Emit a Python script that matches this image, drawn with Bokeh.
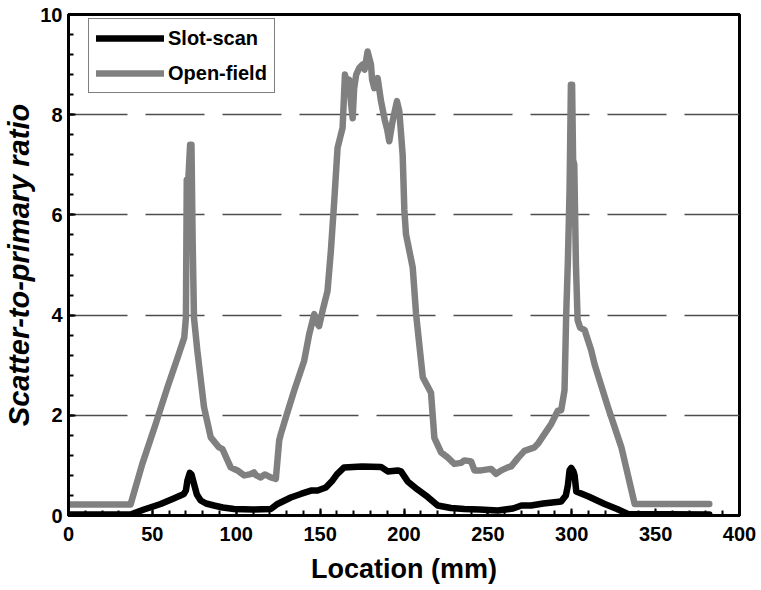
from bokeh.plotting import figure
from bokeh.models import SingleIntervalTicker, Legend, LegendItem, Range1d, ColumnDataSource
from bokeh.embed import file_html
from bokeh.resources import INLINE

# Location (mm) and scatter-to-primary ratio
open_x = [0, 37, 44, 52, 59, 65, 69, 70, 70.5, 71.5, 72.5, 73.3, 74, 74.8, 76.8, 80.8, 84.8,
          89.7, 91.7, 96.7, 100.7, 104.7, 108, 110.6, 112, 114.6, 117, 120.6, 123.6, 125.6,
          126.6, 129.6, 134.5, 140.5, 143.5, 146.5, 148, 149.4, 151.4, 154.4, 156.4, 158.4,
          160.4, 163.4, 164.8, 166, 167.3, 168.5, 169.4, 170.3, 171.5, 173.3, 175.3, 176.5,
          178.3, 180.3, 181, 182.3, 184.3, 186.3, 188.5, 190, 191.2, 193.2, 195.8, 197.2,
          199.2, 200.2, 201.2, 205.2, 207.2, 211.2, 216.1, 218.1, 222.1, 226, 230, 234, 236,
          240, 242, 246, 251.9, 254.9, 258, 261.9, 263.9, 268, 271.8, 277.8, 279.8, 283.8,
          287.8, 291.7, 293.7, 295.7, 296.7, 297.7, 298.7, 299.5, 300.2, 300.8, 301.5, 302.5,
          303.5, 305, 307.7, 311.6, 313.6, 321.6, 329.6, 337.5, 382]
open_y = [0.22, 0.22, 1.03, 1.83, 2.56, 3.15, 3.55, 3.95, 6.7, 6.75, 7.4, 7.4, 5.5, 3.95, 3.29,
          2.16, 1.56, 1.36, 1.33, 0.96, 0.9, 0.8, 0.82, 0.86, 0.8, 0.76, 0.82, 0.76, 0.73, 1.5,
          1.63, 1.96, 2.49, 3.09, 3.62, 4.02, 3.85, 3.78, 4.08, 4.48, 5.28, 6.27, 7.34, 7.74,
          8.8, 8.6, 8.7, 8.2, 7.93, 8.53, 8.8, 8.93, 9.0, 8.9, 9.26, 9.0, 8.7, 8.53, 8.73,
          8.27, 7.9, 7.7, 7.47, 7.87, 8.27, 8.07, 7.2, 6.1, 5.61, 4.95, 4.02, 2.76, 2.45, 1.55,
          1.26, 1.16, 1.03, 1.05, 1.1, 1.08, 0.9, 0.9, 0.93, 0.83, 0.9, 0.96, 0.98, 1.15, 1.29,
          1.36, 1.43, 1.63, 1.83, 2.09, 2.1, 2.5, 4.02, 5.08, 6.5, 8.6, 8.6, 7.1, 7.0, 5.0,
          3.9, 3.75, 3.7, 3.3, 3.02, 2.16, 1.36, 0.23, 0.23]

slot_x = [0, 37, 45, 54.9, 62, 68.8, 70, 70.9, 72.3, 73.3, 74.8, 76.5, 78.8, 82, 86.7, 92,
          98.7, 110, 120.6, 124.6, 132.5, 138.5, 145, 148.5, 153.4, 157.4, 160, 164.3, 175,
          186.3, 190.3, 196.2, 198.2, 202.2, 208, 214.1, 220.1, 228, 236, 245, 255.9, 265,
          270, 275.8, 283, 293.7, 296.5, 297.7, 298.7, 299.7, 301, 301.7, 302.7, 310, 319.6,
          327, 333.5, 382]
slot_y = [0.02, 0.02, 0.12, 0.23, 0.33, 0.43, 0.5, 0.7, 0.85, 0.82, 0.63, 0.42, 0.3, 0.24,
          0.2, 0.16, 0.13, 0.12, 0.13, 0.23, 0.36, 0.43, 0.5, 0.5, 0.56, 0.7, 0.82, 0.96, 0.98,
          0.97, 0.88, 0.9, 0.88, 0.68, 0.52, 0.37, 0.2, 0.15, 0.13, 0.12, 0.1, 0.14, 0.2, 0.2,
          0.24, 0.28, 0.4, 0.6, 0.9, 0.95, 0.88, 0.8, 0.48, 0.38, 0.23, 0.13, 0.03, 0.02]

series_names = ["Slot-scan", "Open-field"]

FONT = "Liberation Sans"

p = figure(width=761, height=590, x_range=Range1d(0, 400), y_range=Range1d(0, 10),
           output_backend="svg", toolbar_location=None,
           min_border_left=68, min_border_right=22, min_border_top=14, min_border_bottom=75)

p.background_fill_color = "white"
p.border_fill_color = "white"
p.outline_line_color = "black"
p.outline_line_width = 3

p.xaxis.ticker = SingleIntervalTicker(interval=50, num_minor_ticks=5)
p.yaxis.ticker = SingleIntervalTicker(interval=2, num_minor_ticks=5)

for ax in (p.xaxis[0], p.yaxis[0]):
    ax.axis_line_width = 3
    ax.axis_line_color = "black"
    ax.major_tick_in = 7
    ax.major_tick_out = 0
    ax.minor_tick_in = 5
    ax.minor_tick_out = 0
    ax.major_tick_line_width = 2
    ax.minor_tick_line_width = 2
    ax.major_tick_line_color = "black"
    ax.minor_tick_line_color = "black"
    ax.major_label_text_font = FONT
    ax.major_label_text_font_style = "bold"
    ax.major_label_text_font_size = "20px"
    ax.major_label_text_color = "black"
    ax.axis_label_text_font = FONT
    ax.axis_label_text_color = "black"

p.xaxis.major_label_standoff = 11
p.yaxis.major_label_standoff = 6
p.xaxis.axis_label = "Location (mm)"
p.xaxis.axis_label_text_font_style = "bold"
p.xaxis.axis_label_text_font_size = "27px"
p.xaxis.axis_label_standoff = 10
p.yaxis.axis_label = "Scatter-to-primary ratio"
p.yaxis.axis_label_text_font_style = "bold italic"
p.yaxis.axis_label_text_font_size = "29px"
p.yaxis.axis_label_standoff = 2

p.xgrid.visible = False
p.ygrid.grid_line_color = "#4d4d4d"
p.ygrid.grid_line_width = 1.5
p.ygrid.grid_line_dash = "59 18"

src_open = ColumnDataSource(dict(x=open_x, y=open_y))
src_slot = ColumnDataSource(dict(x=slot_x, y=slot_y))

r_open = p.line("x", "y", source=src_open, line_color="#808080", line_width=6.5,
                line_join="round", line_cap="round")
r_slot = p.line("x", "y", source=src_slot, line_color="black", line_width=6.5,
                line_join="round", line_cap="round")

legend = Legend(items=[LegendItem(label=series_names[0], renderers=[r_slot]),
                       LegendItem(label=series_names[1], renderers=[r_open])],
                location=(20, 422))
legend.label_text_font = FONT
legend.label_text_font_style = "bold"
legend.label_text_font_size = "20px"
legend.label_text_color = "black"
legend.glyph_width = 68
legend.glyph_height = 24
legend.label_height = 24
legend.label_standoff = 4
legend.padding = 7
legend.spacing = 11
legend.margin = 0
legend.border_line_color = "black"
legend.border_line_width = 1.5
legend.background_fill_alpha = 1
p.add_layout(legend)

open("out.html", "w").write(file_html(p, INLINE))
